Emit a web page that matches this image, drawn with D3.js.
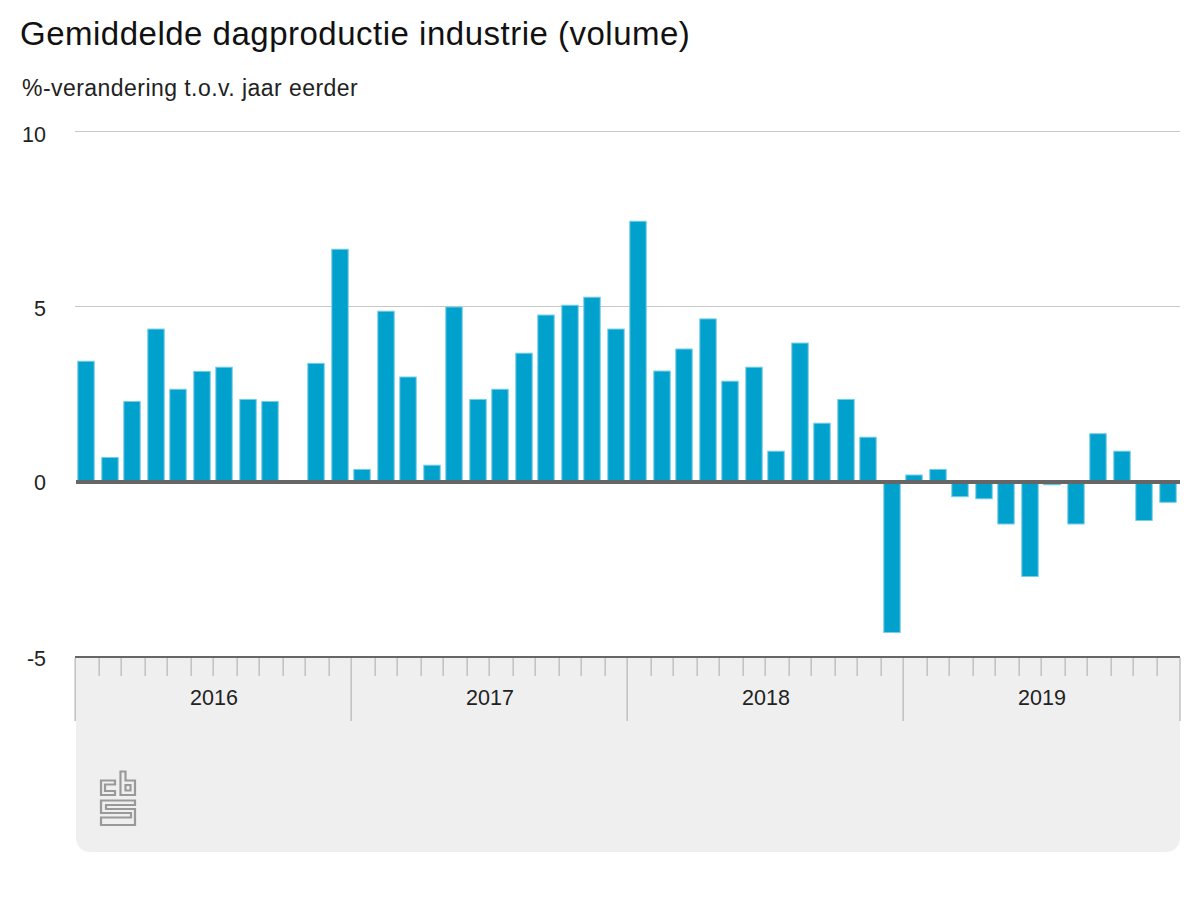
<!DOCTYPE html>
<html><head><meta charset="utf-8">
<script src="https://cdn.jsdelivr.net/npm/d3@7"></script>
<style>html,body{margin:0;padding:0;background:#fff}svg{display:block}text{font-family:"Liberation Sans",Arial,sans-serif}</style>
</head><body><svg id="c" width="1200" height="900"></svg>
<script>
const years = ["2016","2017","2018","2019"];
const months = d3.range(48);
const values = [3.45,0.7,2.3,4.37,2.65,3.16,3.28,2.36,2.3,0,3.39,6.65,
  0.36,4.88,3.0,0.48,5.0,2.36,2.65,3.68,4.77,5.05,5.28,4.37,
  7.45,3.17,3.8,4.66,2.88,3.28,0.88,3.97,1.68,2.36,1.28,-4.3,
  0.2,0.36,-0.42,-0.48,-1.2,-2.7,-0.08,-1.2,1.38,0.88,-1.1,-0.58];
const yTicks = [10,5,0,-5];
const title = "Gemiddelde dagproductie industrie (volume)";
const subtitle = "%-verandering t.o.v. jaar eerder";

const svg = d3.select("#c");
const x = d3.scaleBand().domain(months).range([75,1179]);
const y = d3.scaleLinear().domain([-5,10]).range([657,132]);
const odd = v => 2*Math.round((v-1)/2)+1;

svg.append("text").attr("x",20).attr("y",45).attr("font-size",33).attr("letter-spacing",0.5).attr("fill","#111").text(title);
svg.append("text").attr("x",22).attr("y",96).attr("font-size",23).attr("letter-spacing",0.45).attr("fill","#222").text(subtitle);

// bottom panel
svg.append("path").attr("fill","#efefef")
  .attr("d","M76,657H1180V838a14,14 0 0 1 -14,14H90a14,14 0 0 1 -14,-14Z");

// grid
svg.append("g").selectAll("line").data([10,5]).join("line")
  .attr("x1",75).attr("x2",1180).attr("y1",d=>y(d)-0.5).attr("y2",d=>y(d)-0.5)
  .attr("stroke","#c8c8c8").attr("stroke-width",1);

// y labels
svg.append("g").selectAll("text").data(yTicks).join("text")
  .attr("x",46).attr("y",d=>y(d)+(d===10?9.5:d===0?8:9)).attr("text-anchor","end")
  .attr("font-size",21.5).attr("fill","#222").text(d=>d);

// bars
svg.append("g").selectAll("rect").data(months.filter(i=>values[i]!==0)).join("rect")
  .attr("x",i=>odd(x(i)+2.5)+0.8)
  .attr("width",16.4)
  .attr("y",i=>Math.min(y(values[i]),y(0)))
  .attr("height",i=>Math.abs(y(values[i])-y(0)))
  .attr("fill","#00a1cd").attr("stroke","#75cde6").attr("stroke-width",1);

// zero line and axis
svg.append("line").attr("x1",76).attr("x2",1180).attr("y1",y(0)).attr("y2",y(0)).attr("stroke","#666").attr("stroke-width",4);
svg.append("line").attr("x1",75).attr("x2",1180).attr("y1",y(-5)).attr("y2",y(-5)).attr("stroke","#666").attr("stroke-width",2);

// ticks
const isMajor = i => i%12===0;
svg.append("g").selectAll("line").data(d3.range(0,49)).join("line")
  .attr("x1",i=> i===0?75.2 : i===48?1180 : odd(75+i*x.step())+0.2)
  .attr("x2",i=> i===0?75.2 : i===48?1180 : odd(75+i*x.step())+0.2)
  .attr("y1",658).attr("y2",i=>isMajor(i)?721:676)
  .attr("stroke","#c0c0c0").attr("stroke-width",1.5);

// year labels
svg.append("g").selectAll("text").data(years).join("text")
  .attr("x",(d,i)=>x(i*12)+x.step()*6+1).attr("y",704.5).attr("text-anchor","middle")
  .attr("font-size",21.5).attr("fill","#222").text(d=>d);

// logo
svg.append("g").attr("fill","none").attr("stroke","#999").attr("stroke-width",2.2)
 .selectAll("path").data([
  "M115,780.5H101V795H115V791H105V784.5H115Z",
  "M120.5,771.5H125.5V780.5H135V795H120.5Z",
  "M125.5,785H130.5V790.5H125.5Z",
  "M135,800.5H101V813H131V817.5H101V825H135V809H106V805H135Z"
 ]).join("path").attr("d",d=>d);
</script></body></html>
